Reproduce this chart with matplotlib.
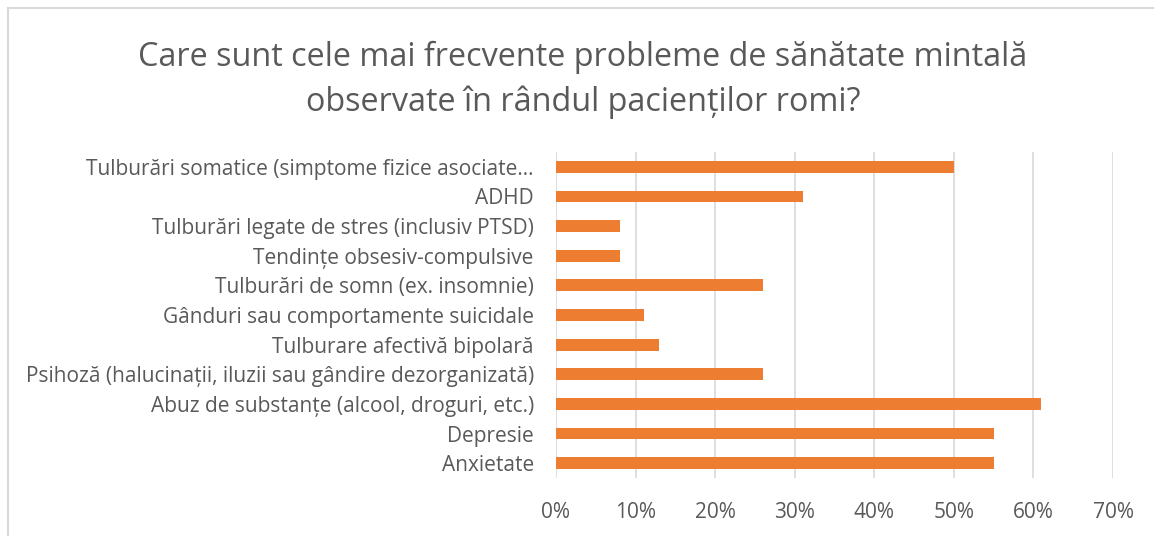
import matplotlib
matplotlib.use("Agg")
import matplotlib.pyplot as plt
from matplotlib.ticker import FuncFormatter, MultipleLocator
from matplotlib.lines import Line2D

categories = [
    "Anxietate",
    "Depresie",
    "Abuz de substanțe (alcool, droguri, etc.)",
    "Psihoză (halucinații, iluzii sau gândire dezorganizată)",
    "Tulburare afectivă bipolară",
    "Gânduri sau comportamente suicidale",
    "Tulburări de somn (ex. insomnie)",
    "Tendințe obsesiv-compulsive",
    "Tulburări legate de stres (inclusiv PTSD)",
    "ADHD",
    "Tulburări somatice (simptome fizice asociate…",
]
values = [0.55, 0.55, 0.61, 0.26, 0.13, 0.11, 0.26, 0.08, 0.08, 0.31, 0.50]
title_lines = ["Care sunt cele mai frecvente probleme de sănătate mintală",
               "observate în rândul pacienților romi?"]

W, H = 1154, 536
fig = plt.figure(figsize=(W / 100, H / 100), dpi=100)
fig.patch.set_facecolor("white")

# chart border (top and left visible)
fig.add_artist(Line2D([7.5 / W, 7.5 / W], [0, 1 - 7.5 / H], transform=fig.transFigure,
                      color="#D9D9D9", lw=1.5))
fig.add_artist(Line2D([7.5 / W, 1], [1 - 7.5 / H, 1 - 7.5 / H], transform=fig.transFigure,
                      color="#D9D9D9", lw=1.5))

left, right = 556 / W, 1113 / W
top, bottom = 1 - 152 / H, 1 - 478 / H
ax = fig.add_axes([left, bottom, right - left, top - bottom])

y = range(len(categories))
ax.barh(y, values, height=0.4, color="#ED7D31", zorder=3)
ax.set_ylim(-0.5, len(categories) - 0.5)
ax.set_xlim(0, 0.70)
ax.xaxis.set_major_locator(MultipleLocator(0.10))
ax.xaxis.set_major_formatter(FuncFormatter(lambda v, p: f"{v*100:.0f}%"))
ax.set_yticks(list(y))
ax.set_yticklabels(categories)
ax.grid(axis="x", color="#D9D9D9", lw=1.2, zorder=0)
ax.set_axisbelow(True)
for s in ax.spines.values():
    s.set_visible(False)
ax.tick_params(axis="both", length=0, colors="#595959")
ax.tick_params(axis="x", pad=17, labelsize=15)
ax.tick_params(axis="y", pad=16, labelsize=15)
for lab in ax.get_xticklabels() + ax.get_yticklabels():
    lab.set_fontfamily(["Open Sans", "DejaVu Sans"])
    lab.set_color("#595959")

for txt, yb in zip(title_lines, [66, 111]):
    fig.text(583 / W, 1 - yb / H, txt, ha="center", va="baseline", fontsize=23.3,
             color="#595959", family=["Open Sans", "DejaVu Sans"])

fig.savefig("out.png", dpi=100)
